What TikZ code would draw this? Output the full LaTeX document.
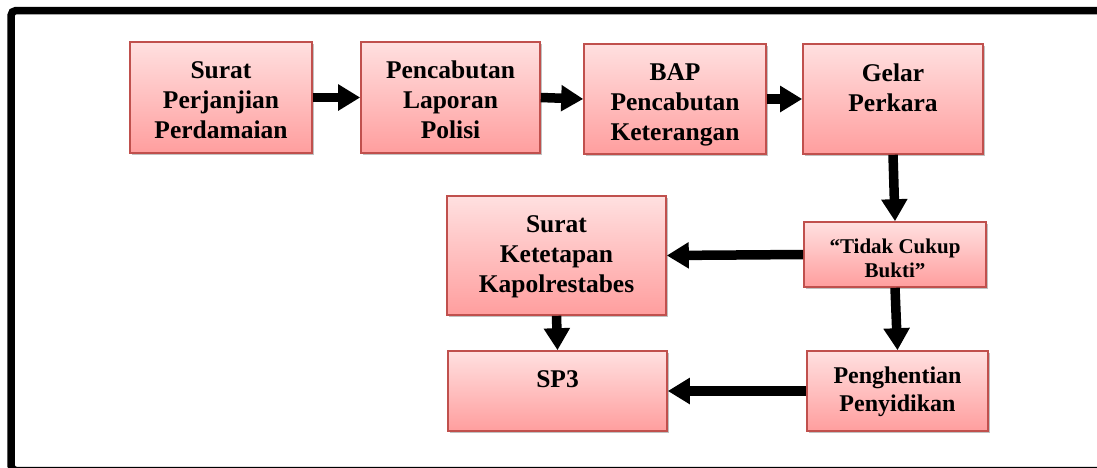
\documentclass[tikz,border=0pt]{standalone}
\usepackage{fontspec}
\setmainfont{Liberation Serif}
\usetikzlibrary{arrows.meta,shadows}
\definecolor{boxline}{RGB}{192,80,77}
\definecolor{boxtop}{RGB}{255,224,224}
\definecolor{boxbot}{RGB}{255,158,158}
\begin{document}
\begin{tikzpicture}[x=1pt,y=-1pt,
  box/.style={draw=boxline, line width=1.6pt, top color=boxtop, bottom color=boxbot,
    inner sep=0pt, drop shadow={shadow xshift=1.8pt, shadow yshift=-2.2pt, opacity=0.35, fill=black!70}},
  bigtxt/.style={font=\fontsize{25.5}{30}\selectfont\bfseries, align=center, anchor=north, inner sep=0pt},
  midtxt/.style={font=\fontsize{24}{28}\selectfont\bfseries, align=center, anchor=north, inner sep=0pt},
  smltxt/.style={font=\fontsize{21}{24}\selectfont\bfseries, align=center, anchor=north, inner sep=0pt},
  arr/.style={line width=9.5pt, -{Triangle[length=22pt,width=25pt]}},
  frame/.style={line width=7.5pt, rounded corners=5pt}]
\useasboundingbox (0,0) rectangle (1097,467);
\clip (0,0) rectangle (1097,467);
\draw[frame] (11,10.5) rectangle (1115,470.5);

% boxes
\node[box, minimum width=182pt, minimum height=111pt] (b1) at (221,97.5) {};
\node[box, minimum width=179pt, minimum height=111pt] (b2) at (450.5,97.5) {};
\node[box, minimum width=182pt, minimum height=110pt] (b3) at (675,99) {};
\node[box, minimum width=180pt, minimum height=110pt] (b4) at (893,99) {};
\node[box, minimum width=182pt, minimum height=65pt] (tidak) at (895,254.5) {};
\node[box, minimum width=181pt, minimum height=80pt] (pengh) at (897.5,391) {};
\node[box, minimum width=219pt, minimum height=119pt] (suratk) at (556.5,255.5) {};
\node[box, minimum width=219pt, minimum height=80pt] (sp3) at (557.5,391) {};

% texts
\node[bigtxt] (t1) at (221,57.5) {\strut Surat\\\strut Perjanjian\\\strut Perdamaian};
\node[bigtxt] (t2) at (450.5,57.5) {\strut Pencabutan\\\strut Laporan\\\strut Polisi};
\node[bigtxt] (t3) at (675,59) {\strut BAP\\\strut Pencabutan\\\strut Keterangan};
\node[bigtxt] (t4) at (893,60) {\strut Gelar\\\strut Perkara};
\node[smltxt] (t5) at (895,236.2) {\strut “Tidak Cukup\\\strut Bukti”};
\node[midtxt] (t6) at (897.5,363.4) {\strut Penghentian\\\strut Penyidikan};
\node[bigtxt] (t7) at (556.5,211) {\strut Surat\\\strut Ketetapan\\\strut Kapolrestabes};
\node[bigtxt] (t8) at (557.5,366) {\strut SP3};

% arrows
\draw[arr] (b1.east) -- (b2.west);
\draw[arr] (b2.east) -- (b3.west);
\draw[arr] (b3.east) -- (b4.west);
\draw[arr] (b4.south) -- (tidak.north);
\draw[arr] (tidak.south) -- (pengh.north);
\draw[arr] (tidak.west) -- (suratk.east);
\draw[arr] (pengh.west) -- (sp3.east);
\draw[arr] (suratk.south) -- (sp3.north);
\end{tikzpicture}
\end{document}
